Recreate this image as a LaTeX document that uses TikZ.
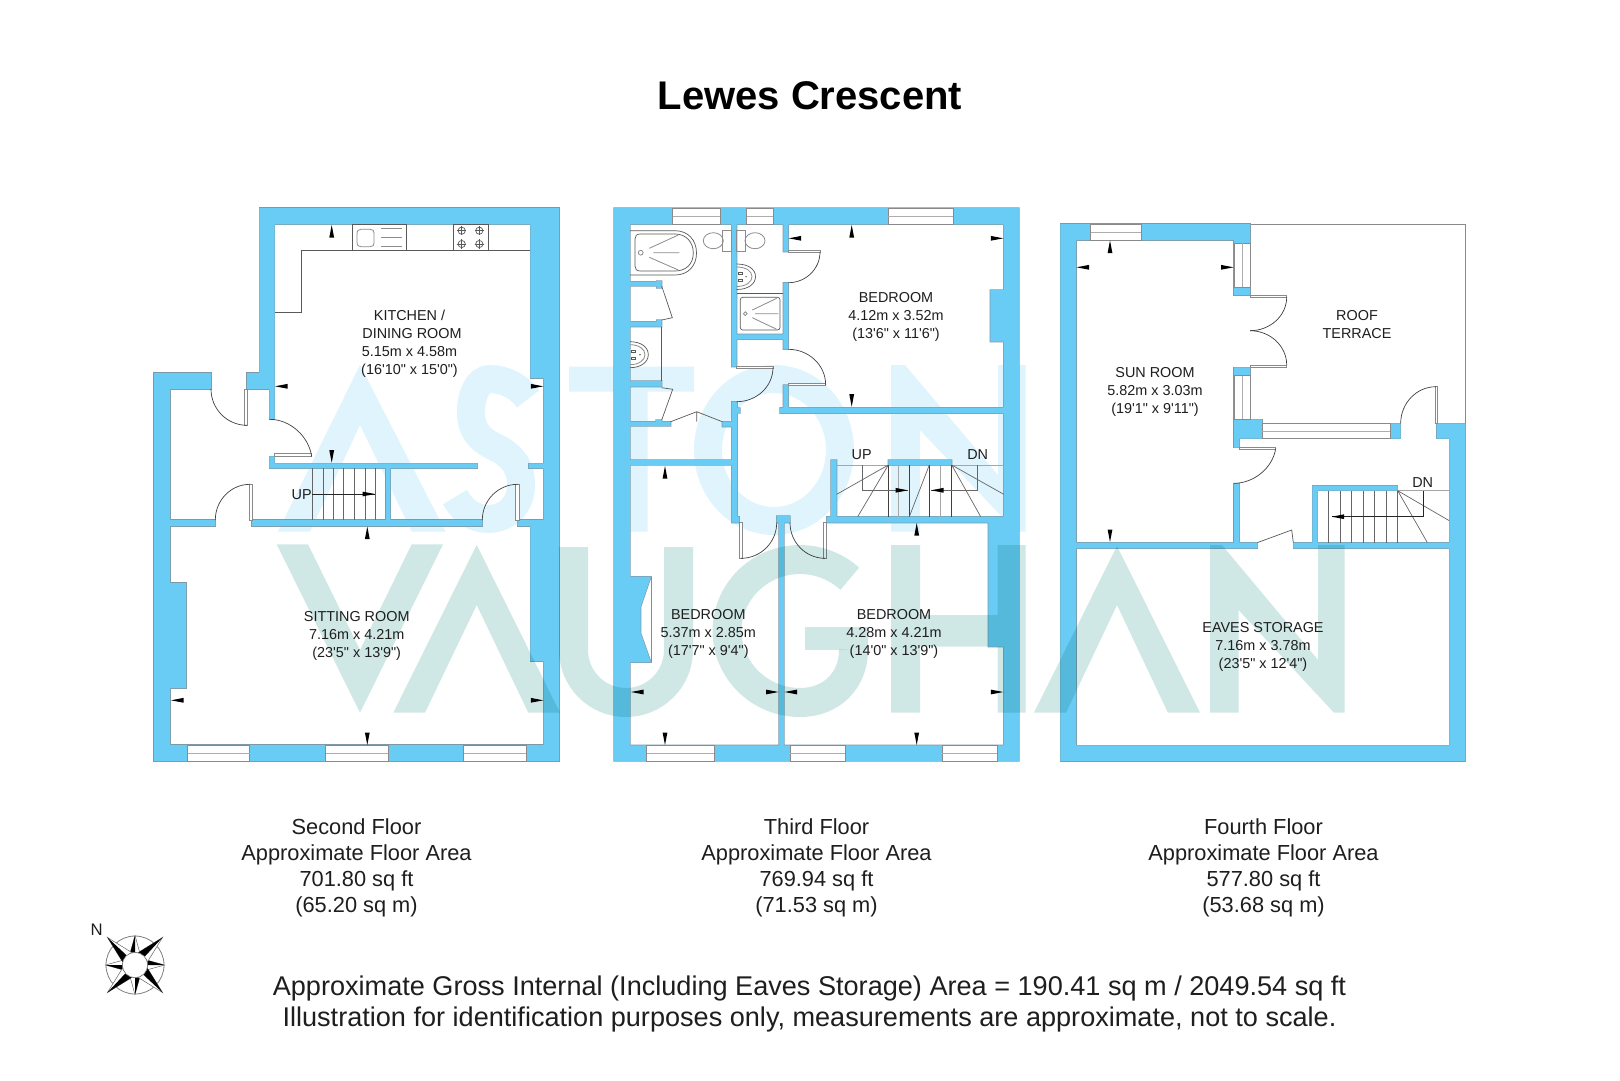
\documentclass[tikz,border=0pt]{standalone}
\usepackage{fontspec}
\setmainfont{Liberation Sans}
\newfontfamily\roomfont{Liberation Sans}
\definecolor{wallc}{HTML}{69CCF5}
\definecolor{edgec}{HTML}{7F98A6}
\definecolor{astonc}{HTML}{E0F4FD}
\definecolor{vaughanc}{HTML}{CFE8E6}
\definecolor{ink}{HTML}{1E1E1E}
\definecolor{thin}{HTML}{8A8A8A}
\tikzset{
  walledge/.style={draw=edgec,line width=1.2pt,line join=miter},
  wallfill/.style={fill=wallc},
  winst/.style={draw=thin,fill=white,line width=0.6pt},
  winline/.style={draw=thin!70,line width=0.9pt},
  leafst/.style={draw=thin,fill=white,line width=0.8pt},
  arcline/.style={draw=black!75,line width=0.7pt},
  fix/.style={draw=black!65,line width=0.7pt},
  fixg/.style={draw=black!45,line width=0.8pt},
  tread/.style={draw=black!60,line width=0.7pt},
  treadg/.style={draw=black!35,line width=0.8pt},
  roomtxt/.style={font=\roomfont\fontsize{14.4}{18}\selectfont,text=ink,align=center,inner sep=0pt},
  floortxt/.style={font=\fontsize{21.8}{26.1}\selectfont,text=ink,align=center,inner sep=0pt},
  notetxt/.style={font=\fontsize{27.1}{31.5}\selectfont,text=ink,align=center,inner sep=0pt},
}
\newcommand{\wallset}[1]{\draw[walledge] #1; \fill[wallfill] #1;}
\newcommand{\winH}[4]{\draw[winst] (#1,#2) rectangle (#3,#4); \draw[winline] (#1,{(#2+#4)/2}) -- (#3,{(#2+#4)/2});}
\newcommand{\winV}[4]{\draw[winst] (#1,#2) rectangle (#3,#4); \draw[winline] ({(#1+#3)/2},#2) -- ({(#1+#3)/2},#4);}
\newcommand{\leafrect}[4]{\draw[leafst] (#1,#2) rectangle (#3,#4);}
% quarter arc: hinge, start, end
\newcommand{\swing}[6]{\draw[arcline] (#3,#4) .. controls ({#3+.5523*(#5-#1)},{#4+.5523*(#6-#2)}) and ({#5+.5523*(#3-#1)},{#6+.5523*(#4-#2)}) .. (#5,#6);}
\newcommand{\mkL}[2]{\fill[black] (#1,#2) -- ({#1+12.5},{#2-2.4}) -- ({#1+12.5},{#2+2.4}) -- cycle;}
\newcommand{\mkR}[2]{\fill[black] (#1,#2) -- ({#1-12.5},{#2-2.4}) -- ({#1-12.5},{#2+2.4}) -- cycle;}
\newcommand{\mkU}[2]{\fill[black] (#1,#2) -- ({#1-2.4},{#2+12.5}) -- ({#1+2.4},{#2+12.5}) -- cycle;}
\newcommand{\mkD}[2]{\fill[black] (#1,#2) -- ({#1-2.4},{#2-12.5}) -- ({#1+2.4},{#2-12.5}) -- cycle;}
\begin{document}
\begin{tikzpicture}[x=1pt,y=-1pt]
\useasboundingbox (0,0) rectangle (1620,1080);
\fill[white] (0,0) rectangle (1620,1080);

%% ===== WATERMARK, upper word (it does not show on the walls)
\fill[astonc] (277.9,531.7) -- (360,365) -- (445.7,531.7) -- (411.8,531.7) -- (360,425) -- (310,531.7) -- cycle;
\draw[astonc,line width=28pt] (528,399) .. controls (520,387) and (505,379) .. (490,379) .. controls (478,379) and (471,395) .. (471,412) .. controls (471,432) and (482,441) .. (495,447) .. controls (510,454) and (521,465) .. (521,485) .. controls (521,505) and (507,519) .. (488,519) .. controls (473,519) and (462,510) .. (455,497);
\fill[astonc] (569,366.7) -- (694,366.7) -- (694,391.7) -- (647.5,391.7) -- (647.5,531.7) -- (615.5,531.7) -- (615.5,391.7) -- (569,391.7) -- cycle;
\draw[astonc,line width=28pt] (774,450) ellipse[x radius=66,y radius=71];
\fill[astonc] (891,531.7) -- (891,365) -- (905,365) -- (998,475) -- (998,365) -- (1025.7,365) -- (1025.7,531.7) -- (1016,531.7) -- (920,430) -- (920,531.7) -- cycle;

%% ===== SECOND FLOOR walls
\wallset{(154,373) rectangle (170,761)
 (154,373) rectangle (211,389)
 (170,583) rectangle (186,688)
 (154,745) rectangle (559,761)
 (543.7,208) rectangle (559,761)
 (530.3,208) rectangle (543.7,378)
 (530.3,525) rectangle (543.7,661)
 (259.3,208) rectangle (559,224.3)
 (259.3,208) rectangle (274.7,389)
 (247,373) rectangle (274.7,389)
 (269.3,389) rectangle (274.7,419.3)
 (269.3,463.3) rectangle (477.7,468.3)
 (269.3,456.3) rectangle (274.7,468.3)
 (528.7,463.3) rectangle (543.7,468.3)
 (386,468.3) rectangle (390.3,520)
 (170,520) rectangle (215.3,526)
 (252,520) rectangle (482.3,526)
 (517.7,520) rectangle (543.7,526)}
\winH{187.7}{745}{249.7}{761}
\winH{325.7}{745}{388}{761}
\winH{463.7}{745}{526}{761}
% doors
\leafrect{244.3}{389}{247.3}{425.3}
\swing{247}{389}{211}{389}{247}{425.3}
\leafrect{274.7}{453.3}{311.7}{456.7}
\swing{274.7}{456.7}{269.5}{419.3}{311.7}{456.7}
\leafrect{249.7}{484.3}{252.7}{520}
\swing{250}{520}{250}{484.3}{215.3}{520}
\leafrect{515.7}{484.3}{519}{520}
\swing{517.7}{520}{517.7}{484.3}{482.3}{520}
% kitchen units
\draw[fix] (530.3,250.3) -- (301.7,250.3) -- (301.7,312.3) -- (274.7,312.3);
\draw[fix] (352.3,224.3) rectangle (406,250.3);
\draw[fixg] (357,234) .. controls (357,230.5) and (358.5,229.3) .. (361,229.3) -- (370,229.3) .. controls (373,229.3) and (374,230.5) .. (374,234) -- (374,242) .. controls (374,245.5) and (373,246.7) .. (370,246.7) -- (361,246.7) .. controls (358.5,246.7) and (357,245.5) .. (357,242) -- cycle;
\draw[fixg] (381.3,228.7) -- (402.3,228.7) (381.3,237.3) -- (402.3,237.3) (381.3,246) -- (402.3,246);
\draw[fix] (453,224.3) rectangle (488.3,250.3);
\foreach \hx/\hy in {461.7/230.7,479.3/230.7,461.7/244,479.3/244}{
  \draw[fix] (\hx,\hy) circle[radius=3.6];
  \draw[fix] (\hx-4.6,\hy) -- (\hx+4.6,\hy) (\hx,\hy-4.6) -- (\hx,\hy+4.6);
}
% stairs
\foreach \t in {312,323,333.7,343.7,354.3,365,375.3}{\draw[tread] (\t,468.3) -- (\t,520);}
\draw[fix,draw=black!85] (312,494) -- (375,494);
\mkR{375}{494}
% markers
\mkU{331.7}{225}
\mkL{275}{386.3}
\mkR{543.3}{386.3}
\mkD{331.7}{462.7}
\mkU{367.3}{526.5}
\mkL{171}{700.3}
\mkR{543.3}{700.3}
\mkD{367.3}{745}

%% ===== THIRD FLOOR walls
\wallset{(614,208) rectangle (630,761)
 (614,208) rectangle (1019,224.3)
 (1003.7,208) rectangle (1019,761)
 (614,745.3) rectangle (1019,761)
 (990.3,290) rectangle (1003.7,341.7)
 (988.3,516.7) rectangle (1003.7,646.7)
 (630,576.7) -- (651,576.7) -- (640.7,606.7) -- (640.7,633.3) -- (651,662.3) -- (630,662.3) -- cycle
 (731.7,224.3) rectangle (736.7,366.7)
 (731.7,401.7) rectangle (737.3,522.7)
 (737.3,408) rectangle (740,413)
 (731.7,516.7) rectangle (739.3,522.7)
 (783.3,224.3) rectangle (788.3,251.7)
 (783.3,282.7) rectangle (788.3,349.3)
 (783.3,385) rectangle (788.3,408)
 (780,407.7) rectangle (1003.7,413.3)
 (736.7,334.3) rectangle (783.3,339.3)
 (630,281.7) rectangle (661.7,286)
 (656.7,281) rectangle (661.7,288)
 (630,321.7) rectangle (661.7,326.7)
 (656.7,320) rectangle (661.7,326.7)
 (630,381) rectangle (661.7,386.7)
 (630,421.7) rectangle (670.7,426)
 (656,420) rectangle (661.7,426)
 (722.3,421.7) rectangle (733,426.7)
 (630,460) rectangle (731.7,465)
 (831,460) rectangle (836.7,516.7)
 (888.3,460) rectangle (951.7,465)
 (826.7,516.7) rectangle (1003.7,522.7)
 (776.7,516) rectangle (790,522.7)
 (779,516) rectangle (784,745.3)}
\winH{672.7}{208}{720}{224.3}
\winH{746.7}{208}{773.3}{224.3}
\winH{888.3}{208}{953.3}{224.3}
\winH{646.7}{745.3}{714}{761}
\winH{790}{745.3}{845}{761}
\winH{942.3}{745.3}{997.3}{761}
\draw[fixg] (651,576.7) -- (651,662.3);
% doors
\leafrect{736.7}{366}{773}{368.3}
\swing{736.7}{367.5}{773}{367.5}{736.7}{401.7}
\leafrect{788.3}{250.5}{820}{252.7}
\swing{788.3}{252}{820}{252}{788.3}{282.7}
\leafrect{788.3}{383}{825.7}{385.5}
\swing{788.3}{385}{825.7}{385}{788.3}{349.3}
\leafrect{739.3}{522.7}{742.7}{558.3}
\swing{741}{522.7}{741}{558.3}{776.7}{522.7}
\leafrect{823.3}{522.7}{826.7}{558.3}
\swing{825}{522.7}{825}{558.3}{790}{522.7}
% closet doors
\draw[fix] (661.7,286) -- (672.3,317.7) -- (661.7,320);
\draw[fix] (661.7,387.7) -- (672.7,389.3) -- (661.7,420);
\draw[fix] (670.7,421.7) -- (696.7,411.7) -- (722.3,421.7) (696.7,411.7) -- (696.7,421.7);
\draw[fix] (661.7,326.7) -- (661.7,381);
% bath
\draw[fix] (630,230.7) -- (675,230.7) .. controls (688,230.7) and (696.5,240) .. (696.5,253) .. controls (696.5,266) and (688,275) .. (675,275) -- (630,275);
\draw[fix] (640,234) -- (675,234) .. controls (686,234) and (693.3,242) .. (693.3,253) .. controls (693.3,264) and (686,271) .. (675,271) -- (640,271) .. controls (636.5,271) and (635,269) .. (635,266) -- (635,239) .. controls (635,236) and (636.5,234) .. (640,234) -- cycle;
\draw[fixg] (649.3,248.3) -- (678.3,235) (649.3,257.3) -- (678.3,270) (653.3,252.7) -- (679.3,252.7);
\draw[fixg] (640.7,252.7) circle[radius=2.4];
% toilets
\draw[fixg] (722.7,230) rectangle (731.7,251.7);
\draw[fixg] (713.3,240.7) ellipse[x radius=10,y radius=8];
\draw[fixg] (736.7,230) rectangle (745,251.7);
\draw[fixg] (755,240.7) ellipse[x radius=10,y radius=8];
% basin right
\draw[fix] (736.7,264) .. controls (748,264) and (755.5,269) .. (755.5,276.7) .. controls (755.5,284) and (748,289.5) .. (736.7,289.5);
\draw[fixg] (736.7,267) .. controls (746,267) and (752,271) .. (752,276.7) .. controls (752,282) and (746,286.5) .. (736.7,286.5);
\draw[fix] (738,272) rectangle (742,274) (738,279.5) rectangle (742,281.5);
\fill[black!60] (746,276.7) circle[radius=0.8];
% shower
\draw[fix] (736.7,293.3) -- (783.3,293.3);
\draw[fix,rounded corners=2.5pt] (740.3,297.3) rectangle (780,330);
\draw[fixg] (752.3,310) -- (776.7,298.3) (752.3,317.7) -- (776.7,329.3) (755,313.7) -- (778.3,313.7);
\draw[fixg] (745.3,313.7) circle[radius=1.9];
% basin left
\draw[fix] (630,341.7) .. controls (641,341.7) and (648.3,347) .. (648.3,354.7) .. controls (648.3,362) and (641,367.7) .. (630,367.7);
\draw[fixg] (630,344.7) .. controls (639,344.7) and (645,349) .. (645,354.7) .. controls (645,360) and (639,364.7) .. (630,364.7);
\draw[fix] (631,350) rectangle (635,352) (631,357.5) rectangle (635,359.5);
\fill[black!60] (640,354.7) circle[radius=0.8];
% stairs
\draw[treadg] (836.7,465) -- (1003.7,465);
\foreach \t in {888.3,909.3,929.3,951.7}{\draw[tread,draw=black!75] (\t,465) -- (\t,516.7);}
\foreach \t in {898.3,940}{\draw[treadg] (\t,465) -- (\t,516.7);}
\draw[tread] (888.3,465) -- (836.7,494.3) (888.3,465) -- (857.7,516.7) (951.7,465) -- (1003.7,494.3) (951.7,465) -- (980.7,516.7);
\draw[tread] (929.3,465) -- (909.3,516.7);
\draw[tread] (862.3,465) -- (862.3,490.3) -- (908,490.3);
\mkR{908}{490.3}
\draw[tread] (977.7,465) -- (977.7,490.3) -- (931,490.3);
\mkL{931}{490.3}
% markers
\mkU{851.7}{225}
\mkL{788.7}{238.3}
\mkR{1003.3}{238.3}
\mkD{851.7}{406.7}
\mkU{665}{466}
\mkU{916.7}{523}
\mkL{631}{692}
\mkR{778.5}{692}
\mkL{784.5}{692}
\mkR{1003.3}{692}
\mkD{665}{745}
\mkD{916.7}{745}

%% ===== FOURTH FLOOR walls
\draw[draw=thin,line width=1pt] (1250,224) -- (1465.3,224) -- (1465.3,423.3);
\wallset{(1060.3,224) rectangle (1076,761)
 (1060.3,224) rectangle (1250,240)
 (1449.3,423.3) rectangle (1465.3,761)
 (1436.7,423.3) rectangle (1465.3,438.7)
 (1060.3,745.3) rectangle (1465.3,761)
 (1234,240) rectangle (1250,295)
 (1234,367.3) rectangle (1250,438.7)
 (1234,419.3) rectangle (1262,438.7)
 (1234,438.7) rectangle (1239.3,447.7)
 (1390,423.3) rectangle (1400.7,438.7)
 (1234,483.3) rectangle (1239.3,542.5)
 (1076,542.5) rectangle (1257.7,548.3)
 (1293.3,542.5) rectangle (1449.3,548.3)
 (1312.3,485.7) rectangle (1317.7,542.5)
 (1312.3,485.7) rectangle (1397.7,490.7)}
\winH{1090.7}{224}{1141}{240}
\winV{1234}{243.3}{1250}{287.3}
\winV{1234}{375.7}{1250}{419.3}
\winH{1262}{423.3}{1390}{438.7}
% doors
\leafrect{1250}{295}{1286.7}{297.3}
\swing{1250}{297}{1286.7}{297}{1250}{330.7}
\leafrect{1250}{365}{1286.7}{367.3}
\swing{1250}{365}{1286.7}{365}{1250}{330.7}
\leafrect{1435}{386.7}{1437.3}{423.3}
\swing{1436}{423.3}{1436}{386.7}{1400.7}{423.3}
\leafrect{1239.3}{447.7}{1275.7}{449.7}
\swing{1239.3}{448.5}{1275.7}{448.5}{1234}{483.3}
\draw[fix] (1257.7,542.5) -- (1291.7,530) -- (1293.3,542.5);
% stairs
\draw[treadg] (1397.7,490.7) -- (1449.3,490.7);
\foreach \t in {1328.7,1340,1351.7,1363.3,1374.7,1386,1397.7}{\draw[tread] (\t,490.7) -- (\t,542.5);}
\draw[tread] (1397.7,490.7) -- (1449.3,520.7) (1397.7,490.7) -- (1427.3,542.5);
\draw[tread,draw=black!85] (1423.3,490.7) -- (1423.3,516.7) -- (1331.7,516.7);
\mkL{1331.7}{516.7}
% markers
\mkU{1110}{240.5}
\mkL{1076.5}{267.3}
\mkR{1233.5}{267.3}
\mkD{1110}{542}

%% ===== WATERMARK, lower word
\begin{scope}[blend mode=multiply]
\fill[vaughanc] (276.7,544.3) -- (308,544.3) -- (360,650) -- (411.7,544.3) -- (443,544.3) -- (360,712.7) -- cycle;
\fill[vaughanc] (393.3,712.7) -- (476.7,545) -- (560,712.7) -- (528.3,712.7) -- (476.7,605) -- (425,712.7) -- cycle;
\draw[vaughanc,line width=29pt] (573.5,547) -- (573.5,650) .. controls (573.5,679) and (597,702.5) .. (626,702.5) .. controls (655,702.5) and (678.5,679) .. (678.5,650) -- (678.5,547);
\draw[vaughanc,line width=29pt] plot[domain=47:270,samples=50] ({800+73*cos(\x)},{631-71.5*sin(\x)}) .. controls (832,702.5) and (853.5,680) .. (853.5,650);
\fill[vaughanc] (805,626.7) rectangle (868,650);
\fill[vaughanc] (891,545) rectangle (920,712.7) (997.5,545) rectangle (1025.7,712.7) (920,615) rectangle (997.5,646.7);
\fill[vaughanc] (1034,712.7) -- (1117,546) -- (1200,712.7) -- (1167.9,712.7) -- (1117,605) -- (1066,712.7) -- cycle;
\fill[vaughanc] (1210,712.7) -- (1210,545) -- (1222,545) -- (1318,660) -- (1318,545) -- (1344.6,545) -- (1344.6,712.7) -- (1334,712.7) -- (1238.6,610) -- (1238.6,712.7) -- cycle;
\end{scope}

%% ===== TEXT
\node[font=\fontsize{40}{48}\selectfont\bfseries,text=black,inner sep=0pt] (title) at (810,96) {Lewes Crescent};
\node[roomtxt] (kitchen) at (409.5,344) {KITCHEN /\\\hspace*{5pt}DINING ROOM\\5.15m x 4.58m\\(16'10" x 15'0")};
\node[roomtxt] (sitting) at (356.7,635.7) {SITTING ROOM\\7.16m x 4.21m\\(23'5" x 13'9")};
\node[roomtxt] (bedA) at (896,316.5) {BEDROOM\\4.12m x 3.52m\\(13'6" x 11'6")};
\node[roomtxt] (bedB) at (708.3,634) {BEDROOM\\5.37m x 2.85m\\(17'7" x 9'4")};
\node[roomtxt] (bedC) at (894,634) {BEDROOM\\4.28m x 4.21m\\(14'0" x 13'9")};
\node[roomtxt] (sun) at (1155,391.5) {SUN ROOM\\5.82m x 3.03m\\(19'1" x 9'11")};
\node[roomtxt] (roof) at (1357,324.5) {ROOF\\TERRACE};
\node[roomtxt] (eaves) at (1263,647) {EAVES STORAGE\\7.16m x 3.78m\\(23'5" x 12'4")};
\node[roomtxt] (up1) at (301.7,494.5) {UP};
\node[roomtxt] (up2) at (861.7,455) {UP};
\node[roomtxt] (dn1) at (977.7,455) {DN};
\node[roomtxt] (dn2) at (1422.7,482.5) {DN};
\node[floortxt] (fl2) at (356.5,867.5) {Second Floor\\Approximate Floor Area\\701.80 sq ft\\(65.20 sq m)};
\node[floortxt] (fl3) at (816.5,867.5) {Third Floor\\Approximate Floor Area\\769.94 sq ft\\(71.53 sq m)};
\node[floortxt] (fl4) at (1263.5,867.5) {Fourth Floor\\Approximate Floor Area\\577.80 sq ft\\(53.68 sq m)};
\node[notetxt] (note) at (809.5,1004) {Approximate Gross Internal (Including Eaves Storage) Area = 190.41 sq m / 2049.54 sq ft\\Illustration for identification purposes only, measurements are approximate, not to scale.};

%% ===== COMPASS
\node[font=\fontsize{16.7}{20}\selectfont,text=ink,inner sep=0pt] (north) at (96.7,929.3) {N};
\draw[black!50,line width=0.8pt] (135,965) circle[radius=29];
\foreach \a in {-90,0,90,180}{
  \draw[black!60,fill=white,line width=0.5pt] ({135+29.5*cos(\a)},{965+29.5*sin(\a)}) -- ({135+13*cos(\a+22)},{965+13*sin(\a+22)}) -- ({135+13*cos(\a-22)},{965+13*sin(\a-22)}) -- cycle;
  \fill[black] ({135+29.5*cos(\a)},{965+29.5*sin(\a)}) -- ({135+13*cos(\a-22)},{965+13*sin(\a-22)}) -- ({135+13*cos(\a)},{965+13*sin(\a)}) -- cycle;
}
\foreach \a in {-135,-45,45,135}{
  \draw[black!60,fill=white,line width=0.5pt] ({135+39*cos(\a)},{965+39*sin(\a)}) -- ({135+13*cos(\a+30)},{965+13*sin(\a+30)}) -- ({135+13*cos(\a-30)},{965+13*sin(\a-30)}) -- cycle;
  \fill[black] ({135+39*cos(\a)},{965+39*sin(\a)}) -- ({135+13*cos(\a-30)},{965+13*sin(\a-30)}) -- ({135+13*cos(\a+4)},{965+13*sin(\a+4)}) -- cycle;
}
\draw[black!60,fill=white,line width=0.6pt] (135,965) circle[radius=12.7];
\end{tikzpicture}
\end{document}
